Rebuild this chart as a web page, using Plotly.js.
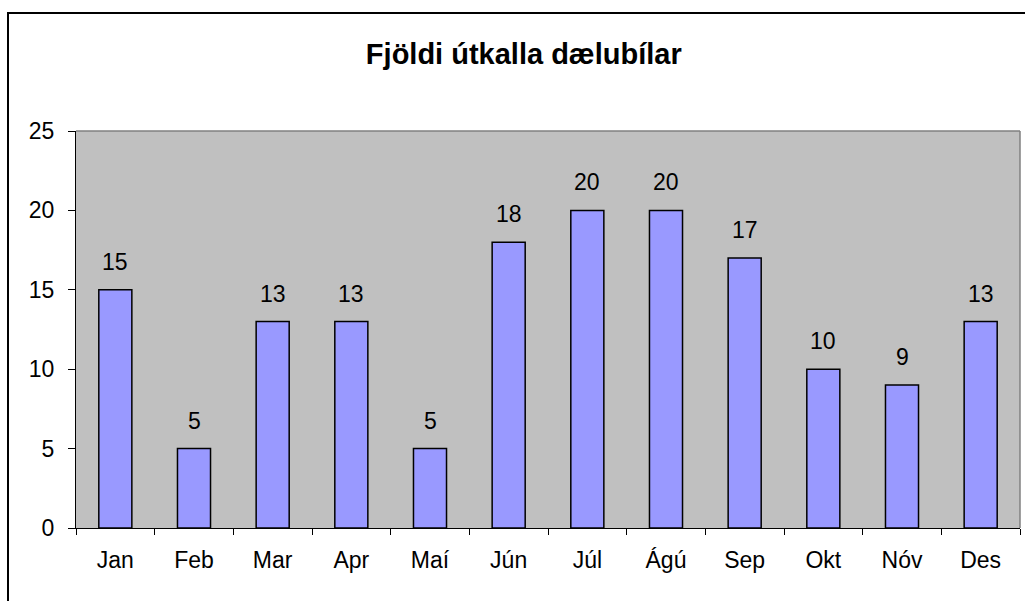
<!DOCTYPE html>
<html><head><meta charset="utf-8">
<script src="https://cdn.plot.ly/plotly-3.0.1.min.js"></script>
<style>
html,body{margin:0;padding:0;background:#fff;overflow:hidden;}
#chart{width:1025px;height:601px;position:absolute;left:0;top:0;}
#frame{position:absolute;left:7px;top:12px;width:1040px;height:620px;border:2px solid #000;pointer-events:none;}
</style>
</head><body>
<div id="chart"></div>
<div id="frame"></div>
<script>
const months = ["Jan","Feb","Mar","Apr","Maí","Jún","Júl","Ágú","Sep","Okt","Nóv","Des"];
const counts = [15,5,13,13,5,18,20,20,17,10,9,13];
const titleText = "Fjöldi útkalla dælubílar";
const yTicks = [0,5,10,15,20,25];

const font = "Liberation Sans, Arial, sans-serif";

const trace = {
  type: "bar",
  x: months,
  y: counts,
  marker: {color: "#9999FF", line: {color: "#000000", width: 1.5}},
  width: 0.42,
  hoverinfo: "none"
};

const annotations = months.map((m, i) => ({
  x: m, y: counts[i], xref: "x", yref: "y",
  text: String(counts[i]), showarrow: false,
  yanchor: "bottom", yshift: 13,
  font: {family: font, size: 23, color: "#000"}
}));

const layout = {
  width: 1025, height: 601,
  margin: {l: 76, r: 5, t: 131, b: 73, pad: 0},
  paper_bgcolor: "#ffffff",
  plot_bgcolor: "#C0C0C0",
  showlegend: false,
  title: {text: "<b>" + titleText + "</b>", x: 0.511, xanchor: "center", y: 0.91, yanchor: "middle",
          font: {family: font, size: 29, color: "#000"}},
  xaxis: {
    type: "category", showgrid: false, zeroline: false,
    showline: true, linecolor: "#000", linewidth: 1,
    ticks: "outside", tickson: "boundaries", ticklen: 6, tickcolor: "#000", tickwidth: 1,
    tickfont: {family: font, size: 23, color: "#000"},
    ticklabelstandoff: 11
  },
  yaxis: {
    range: [0, 25], tickvals: yTicks, showgrid: false, zeroline: false,
    showline: true, linecolor: "#000", linewidth: 1,
    ticks: "outside", ticklen: 7, tickcolor: "#000", tickwidth: 1,
    tickfont: {family: font, size: 23, color: "#000"},
    ticklabelstandoff: 9
  },
  shapes: [
    {type: "line", xref: "paper", yref: "paper", x0: 0, x1: 1, y0: 1, y1: 1, line: {color: "#808080", width: 1.5}},
    {type: "line", xref: "paper", yref: "paper", x0: 1, x1: 1, y0: 0, y1: 1, line: {color: "#808080", width: 1.5}}
  ],
  annotations: annotations,
  bargap: 0.58
};

Plotly.newPlot("chart", [trace], layout, {displayModeBar: false, staticPlot: true});
</script>
</body></html>
